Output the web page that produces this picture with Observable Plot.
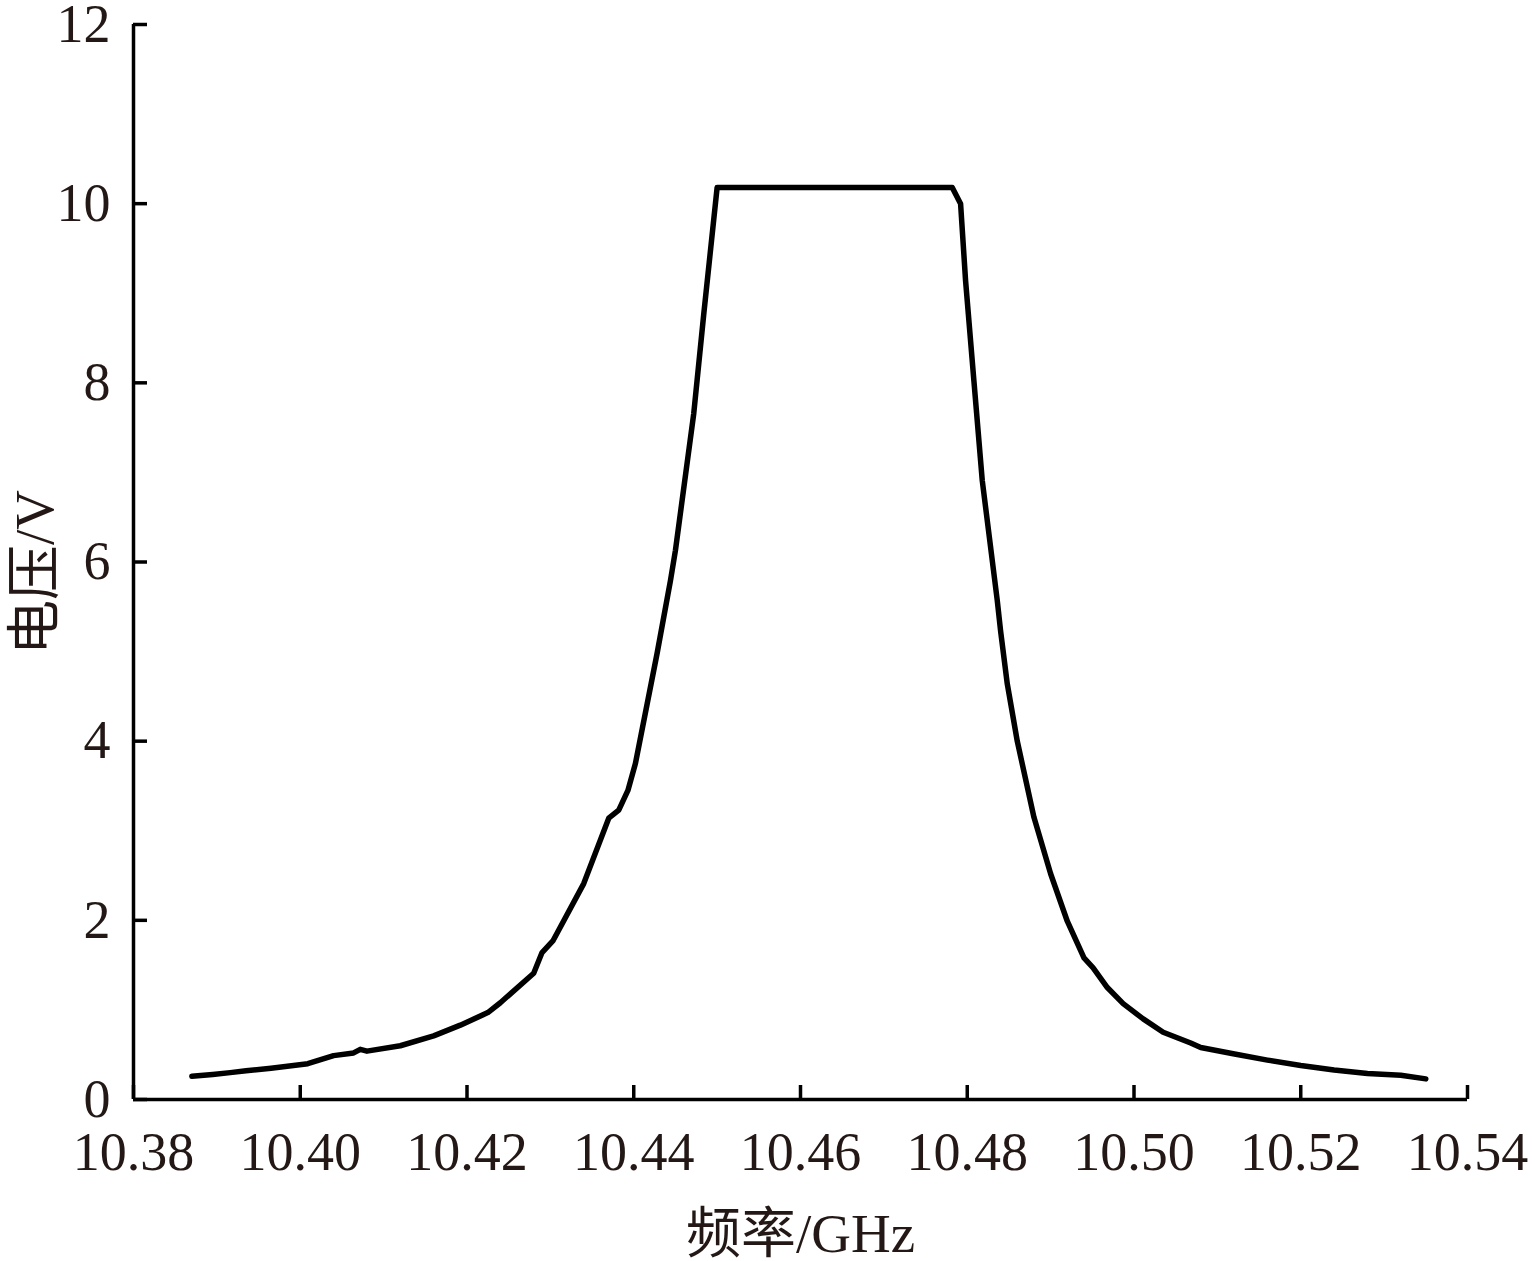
<!DOCTYPE html>
<html>
<head>
<meta charset="utf-8">
<script src="https://cdn.jsdelivr.net/npm/d3@7"></script>
<script src="https://cdn.jsdelivr.net/npm/@observablehq/plot@0.6"></script>
<style>
  html, body { margin: 0; padding: 0; background: #fff; }
</style>
</head>
<body>
<div id="chart"></div>
<script>
const freq = [10.387, 10.3895, 10.3916, 10.3935, 10.3965, 10.4009, 10.404, 10.4064, 10.4072, 10.408, 10.412, 10.416, 10.4192, 10.4225, 10.424, 10.428, 10.429, 10.4303, 10.434, 10.437, 10.4382, 10.4393, 10.4402, 10.4428, 10.4444, 10.445, 10.4472, 10.4484, 10.45, 10.4782, 10.4792, 10.4798, 10.4808, 10.4818, 10.4836, 10.484, 10.4848, 10.486, 10.488, 10.49, 10.492, 10.494, 10.4951, 10.4968, 10.4987, 10.5011, 10.5035, 10.5068, 10.508, 10.5119, 10.516, 10.52, 10.524, 10.528, 10.532, 10.535];
const voltage = [0.26, 0.28, 0.30, 0.32, 0.35, 0.40, 0.49, 0.52, 0.56, 0.54, 0.60, 0.71, 0.83, 0.97, 1.08, 1.41, 1.64, 1.77, 2.41, 3.14, 3.23, 3.45, 3.75, 4.98, 5.79, 6.13, 7.66, 8.77, 10.18, 10.18, 10.0, 9.14, 8.02, 6.91, 5.57, 5.23, 4.64, 4.0, 3.15, 2.52, 1.99, 1.58, 1.47, 1.25, 1.07, 0.90, 0.75, 0.63, 0.58, 0.51, 0.44, 0.38, 0.33, 0.29, 0.27, 0.23];
const xTicks = [10.38, 10.40, 10.42, 10.44, 10.46, 10.48, 10.50, 10.52, 10.54];
const yTicks = [0, 2, 4, 6, 8, 10, 12];
const xLabel = "频率/GHz";
const yLabel = "电压/V";

const data = freq.map((f, i) => ({f, v: voltage[i]}));
const ink = "#231815";
const font = "'Liberation Serif', 'Times New Roman', 'Noto Sans CJK SC', serif";

const chart = Plot.plot({
  width: 1535,
  height: 1261,
  marginLeft: 133,
  marginRight: 68,
  marginTop: 24,
  marginBottom: 162,
  style: {fontFamily: font, color: ink, background: "#fff", overflow: "visible"},
  x: {domain: [10.38, 10.54]},
  y: {domain: [0, 12]},
  marks: [
    Plot.axisX({ticks: xTicks, tickSize: -14, strokeWidth: 3.5, stroke: "#000", text: null, label: null}),
    Plot.axisX({ticks: xTicks, tickSize: 0, tickPadding: 32, tickFormat: d3.format(".2f"), fontSize: 54, fill: ink, label: null}),
    Plot.axisY({ticks: yTicks, tickSize: -14, strokeWidth: 3.5, stroke: "#000", text: null, label: null}),
    Plot.axisY({ticks: yTicks, tickSize: 0, tickPadding: 23, tickFormat: d3.format("d"), fontSize: 54, fill: ink, label: null}),
    Plot.ruleX([10.38], {stroke: "#000", strokeWidth: 3.5}),
    Plot.ruleY([0], {stroke: "#000", strokeWidth: 3.5}),
    Plot.line(data, {x: "f", y: "v", stroke: "#000", strokeWidth: 5.5, strokeLinecap: "round", strokeLinejoin: "round"}),
    Plot.text([xLabel], {frameAnchor: "bottom", dy: 135, lineAnchor: "middle", fontSize: 55, fill: ink}),
    Plot.text([yLabel], {frameAnchor: "left", rotate: -90, dx: -98, dy: 93, lineAnchor: "middle", fontSize: 55, fill: ink})
  ]
});
document.getElementById("chart").appendChild(chart);
</script>
</body>
</html>
